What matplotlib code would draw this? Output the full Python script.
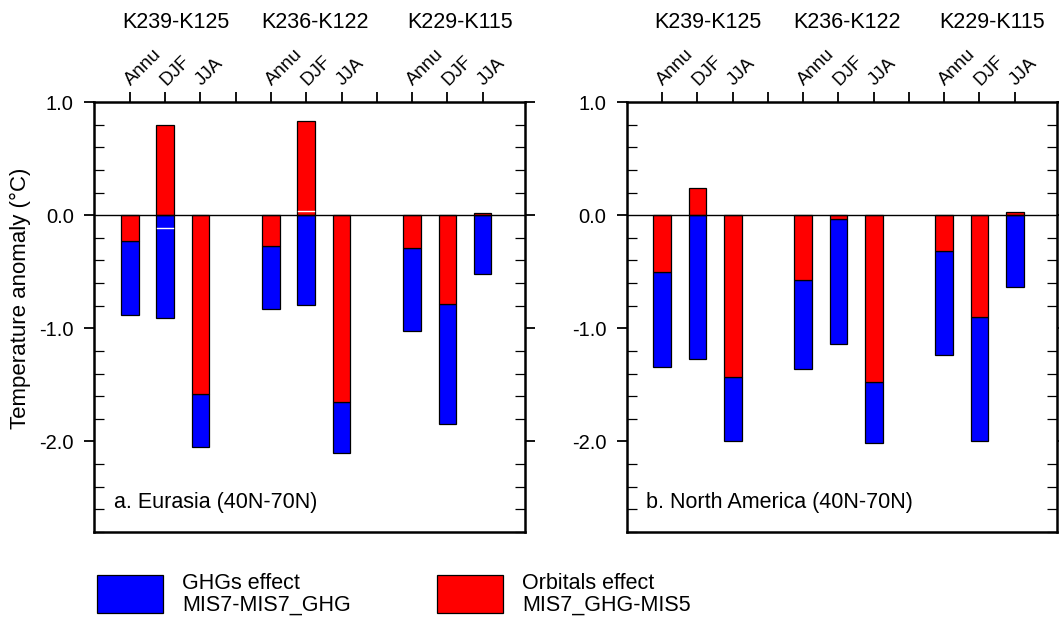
import numpy as np
import matplotlib
matplotlib.use("Agg")
import matplotlib.pyplot as plt
from matplotlib.patches import Rectangle
from matplotlib.ticker import MultipleLocator
import matplotlib.transforms as mtransforms

plt.rcParams['font.family'] = ['Liberation Sans', 'DejaVu Sans']

# bar positions, gaps at 4 and 8
xpos = [1, 2, 3, 5, 6, 7, 9, 10, 11]
seasons = ["Annu", "DJF", "JJA"] * 3
groups = ["K239-K125", "K236-K122", "K229-K115"]
group_x = [2.3, 6.25, 10.35]

# Eurasia (40N-70N)
eu_orb = [-0.225, 0.80, -1.584, -0.275, 0.835, -1.655, -0.29, -0.785, 0.018]
eu_ghg = [-0.66, -0.91, -0.464, -0.557, -0.797, -0.443, -0.734, -1.059, -0.52]

# North America (40N-70N)
na_orb = [-0.502, 0.236, -1.434, -0.575, -0.038, -1.478, -0.319, -0.903, 0.032]
na_ghg = [-0.843, -1.272, -0.566, -0.785, -1.104, -0.534, -0.914, -1.097, -0.632]

panels = ["a. Eurasia (40N-70N)", "b. North America (40N-70N)"]

fig = plt.figure(figsize=(10.59, 6.17), dpi=100)
ax1 = fig.add_axes([94.5/1059, 85/617, 430.5/1059, 430/617])
ax2 = fig.add_axes([627/1059, 85/617, 430/1059, 430/617])


def draw(ax, orb, ghg, title):
    orb = np.array(orb)
    ghg = np.array(ghg)
    # ghg stacked on orbital part when same sign, else from zero
    same = np.sign(orb) == np.sign(ghg)
    bot = np.where(same, orb, 0.0)
    ax.bar(xpos, ghg, 0.5, bottom=bot, color="blue", edgecolor="black", lw=0.9, zorder=2)
    ax.bar(xpos, orb, 0.5, color="red", edgecolor="black", lw=0.9, zorder=2)
    # thin white mark at net value where it falls close to zero line
    net = orb + ghg
    for x, n, s in zip(xpos, net, same):
        if not s and abs(n) < 0.2:
            ax.plot([x - 0.23, x + 0.23], [n, n], color="white", lw=1, zorder=3)
    ax.axhline(0, color="black", lw=1, zorder=3)

    ax.set_xlim(0, 12.2)
    ax.set_ylim(-2.8, 1.0)
    ax.yaxis.set_major_locator(MultipleLocator(1.0))
    ax.yaxis.set_minor_locator(MultipleLocator(0.2))
    ax.yaxis.set_major_formatter(plt.FuncFormatter(lambda v, p: "%.1f" % v))
    ax.tick_params(axis="y", which="major", direction="out", length=7, width=1.3,
                   labelsize=14.5, pad=8, right=True)
    ax.tick_params(axis="y", which="minor", direction="in", length=7, width=0.9, right=True)
    ax.set_xticks(range(1, 12))
    ax.tick_params(axis="x", which="both", bottom=False, top=True, labelbottom=False,
                   labeltop=False, direction="out", length=7, width=1.3)
    for sp in ax.spines.values():
        sp.set_linewidth(1.8)

    off = mtransforms.ScaledTranslation(1/100, 16/100, fig.dpi_scale_trans)
    tr = ax.get_xaxis_transform() + off
    for x, s in zip(xpos, seasons):
        ax.text(x, 1.0, s, transform=tr, rotation=45, rotation_mode="anchor",
                ha="left", va="baseline", fontsize=13.5)
    for gx, g in zip(group_x, groups):
        ax.text(gx, 1.0, g, transform=ax.get_xaxis_transform()
                + mtransforms.ScaledTranslation(0, 74/100, fig.dpi_scale_trans),
                ha="center", va="baseline", fontsize=15.5)
    ax.text(19.5/430, 24/430, title, transform=ax.transAxes, fontsize=15.5,
            ha="left", va="baseline")


draw(ax1, eu_orb, eu_ghg, panels[0])
draw(ax2, na_orb, na_ghg, panels[1])

fig.text(20/1059, 1 - 298/617, "Temperature anomaly (\u00b0C)", rotation=90,
         ha="center", va="center", fontsize=16)

# legend
leg_cols = ["blue", "red"]
leg_txt = ["GHGs effect\nMIS7-MIS7_GHG", "Orbitals effect\nMIS7_GHG-MIS5"]
leg_x = [97, 437]
for lx, c, t in zip(leg_x, leg_cols, leg_txt):
    fig.add_artist(Rectangle((lx/1059, 1 - 613/617), 66/1059, 38/617, facecolor=c,
                             edgecolor="black", lw=0.9, transform=fig.transFigure))
    fig.text((lx + 85)/1059, 1 - 594/617, t, fontsize=15.5, ha="left", va="center",
             linespacing=1.05)

fig.savefig("out.png", dpi=100)
